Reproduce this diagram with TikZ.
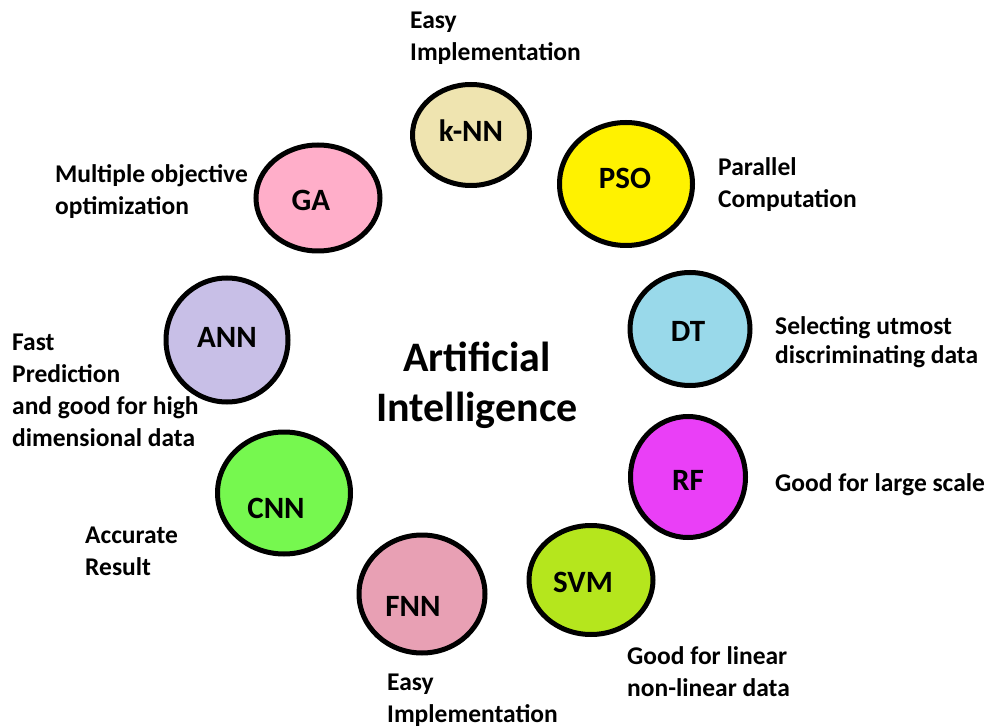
\documentclass[tikz,border=0pt]{standalone}
\usepackage{fontspec}
\setmainfont{Carlito}
\usetikzlibrary{shapes.geometric}

\definecolor{cream}{HTML}{EFE4B0}
\definecolor{paintyellow}{HTML}{FFF200}
\definecolor{rose}{HTML}{FFAEC9}
\definecolor{lavender}{HTML}{C8BFE7}
\definecolor{turquoise}{HTML}{99D9EA}
\definecolor{paintmagenta}{HTML}{EA3FF7}
\definecolor{lime}{HTML}{B5E61D}
\definecolor{dustypink}{HTML}{E8A0B4}
\definecolor{paintgreen}{HTML}{76F84F}

\begin{document}
\begin{tikzpicture}[x=1pt,y=-1pt,
    algo/.style={ellipse, draw=black, line width=5pt, inner sep=0pt},
    every label/.style={inner sep=0pt, font=\fontsize{31}{36}\selectfont\bfseries},
    merit/.style={anchor=west, align=left, inner sep=0pt,
                  font=\fontsize{25.5}{32}\selectfont\bfseries}]
    \useasboundingbox (0,0) rectangle (988,727);
    % algorithms round the centre
    \node[algo, fill=cream,        minimum width=117pt, minimum height=101pt, label={[shift={(0,-4)}]center:k-NN}] (knn) at (471,135) {};
    \node[algo, fill=paintyellow,  minimum width=133pt, minimum height=123pt, label={[shift={(-1,-6)}]center:PSO}] (pso) at (626,184) {};
    \node[algo, fill=rose,         minimum width=124pt, minimum height=106pt, label={[shift={(-7,2)}]center:GA}] (ga)  at (318,198) {};
    \node[algo, fill=lavender,     minimum width=122pt, minimum height=124pt, label={[shift={(0,-3)}]center:ANN}] (ann) at (227,340) {};
    \node[algo, fill=turquoise,    minimum width=120pt, minimum height=113pt, label={[shift={(-2,2)}]center:DT}] (dt)  at (690,329) {};
    \node[algo, fill=paintmagenta, minimum width=115pt, minimum height=121pt, label={[shift={(0,3)}]center:RF}] (rf)  at (688,477) {};
    \node[algo, fill=paintgreen,   minimum width=133pt, minimum height=122pt, label={[shift={(-8,15)}]center:CNN}] (cnn) at (284,493) {};
    \node[algo, fill=lime,         minimum width=124pt, minimum height=109pt, label={[shift={(-8,2)}]center:SVM}] (svm) at (591,580) {};
    \node[algo, fill=dustypink,    minimum width=126pt, minimum height=118pt, label={[shift={(-9,12)}]center:FNN}] (fnn) at (422,594) {};
    % centre
    \node[align=center, font=\fontsize{42}{50}\selectfont\bfseries] (ai) at (477,385) {Artificial\\Intelligence};
    % merits
    \node[merit] (knnmerit) at (410,38)  {Easy\\Implementation};
    \node[merit] (psomerit) at (718,185) {Parallel\\Computation};
    \node[merit] (gamerit)  at (55,192)  {Multiple objective\\optimization};
    \node[merit] (annmerit) at (12,390)  {Fast\\Prediction\\and good for high\\dimensional data};
    \node[merit, font=\fontsize{25.5}{29}\selectfont\bfseries] (dtmerit) at (775,342) {Selecting utmost\\discriminating data};
    \node[merit] (rfmerit)  at (775,485) {Good for large scale};
    \node[merit] (cnnmerit) at (85,551)  {Accurate\\Result};
    \node[merit] (svmmerit) at (627,672) {Good for linear\\non-linear data};
    \node[merit] (fnnmerit) at (387,700) {Easy\\Implementation};
\end{tikzpicture}
\end{document}
